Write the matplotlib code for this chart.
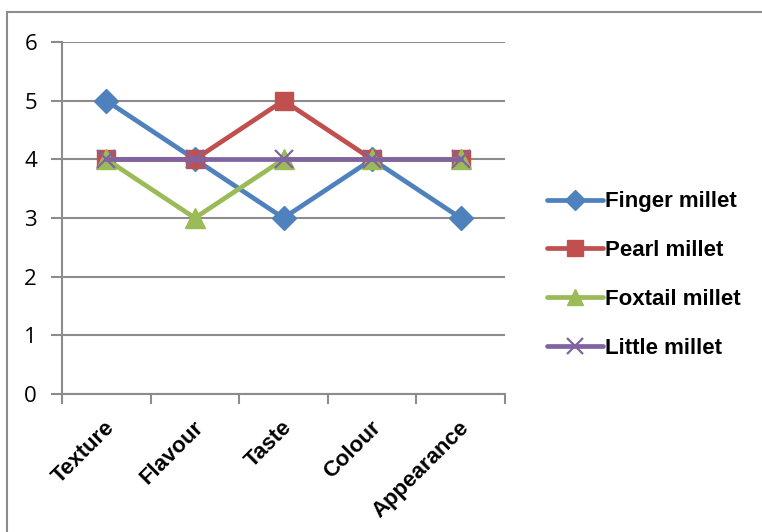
import matplotlib
matplotlib.use("Agg")
import matplotlib.pyplot as plt
from matplotlib.patches import Rectangle
from matplotlib.transforms import ScaledTranslation, blended_transform_factory

categories = ["Texture", "Flavour", "Taste", "Colour", "Appearance"]
finger_millet = [5, 4, 3, 4, 3]
pearl_millet = [4, 4, 5, 4, 4]
foxtail_millet = [4, 3, 4, 4, 4]
little_millet = [4, 4, 4, 4, 4]
y_ticks = [0, 1, 2, 3, 4, 5, 6]

W, H = 762, 532
fig = plt.figure(figsize=(W / 100, H / 100), dpi=100)
fig.patch.set_facecolor("white")

# outer chart frame (open to the right and bottom)
fig.patches.append(Rectangle((7 / W, -0.1), 1.2, (H - 12) / H + 0.1,
                             transform=fig.transFigure, fill=False,
                             edgecolor="#8c8c8c", linewidth=1.5))

ax = fig.add_axes([62 / W, (H - 394) / H, (505 - 62) / W, (394 - 42) / H])

series = [
    ("Finger millet", finger_millet, "#4F81BD", "D", 12),
    ("Pearl millet", pearl_millet, "#C0504D", "s", 13),
    ("Foxtail millet", foxtail_millet, "#9BBB59", "^", 14),
    ("Little millet", little_millet, "#8064A2", "x", 13),
]

x = list(range(len(categories)))
for name, vals, col, mk, ms in series:
    kw = dict(markeredgewidth=1.6) if mk == "x" else dict(markeredgecolor=col)
    ax.plot(x, vals, color=col, linewidth=3.4, marker=mk, markersize=ms,
            markerfacecolor=col, label=name, solid_capstyle="round", **kw)

ax.set_xlim(-0.5, len(categories) - 0.5)
ax.set_ylim(0, 6)
ax.set_yticks(y_ticks)
ax.set_yticklabels([str(v) for v in y_ticks], fontsize=16,
                   family=["Open Sans", "DejaVu Sans"])
ax.yaxis.grid(True, color="#8c8c8c", linewidth=1.5)
ax.set_axisbelow(True)

# category boundaries as tick marks
ax.set_xticks([i - 0.5 for i in range(len(categories) + 1)])
ax.set_xticklabels([])
ax.tick_params(axis="x", which="major", length=7, width=1.5, color="#8c8c8c",
               direction="out")
ax.tick_params(axis="y", length=8, width=1.5, color="#8c8c8c", pad=10)

# rotated category labels under each category centre
base = blended_transform_factory(ax.transData, ax.transAxes)
offset = ScaledTranslation(-2 / 100, -23 / 100, fig.dpi_scale_trans)
for i, cat in enumerate(categories):
    ax.text(i, 0, cat, transform=base + offset, rotation=45, ha="right",
            va="top", rotation_mode="anchor", fontsize=16, fontweight="bold",
            family=["Liberation Sans", "DejaVu Sans"], clip_on=False)

for s in ["top", "right"]:
    ax.spines[s].set_visible(False)
for s in ["left", "bottom"]:
    ax.spines[s].set_color("#8c8c8c")
    ax.spines[s].set_linewidth(1.5)

leg = ax.legend(loc="center left", bbox_to_anchor=(527 / W, (H - 275) / H),
                bbox_transform=fig.transFigure, frameon=False,
                prop=dict(family=["Liberation Sans", "DejaVu Sans"],
                          weight="bold", size=16),
                handlelength=2.5, handletextpad=0.1, labelspacing=1.25,
                markerscale=0.85)

fig.savefig("out.png", dpi=100)
